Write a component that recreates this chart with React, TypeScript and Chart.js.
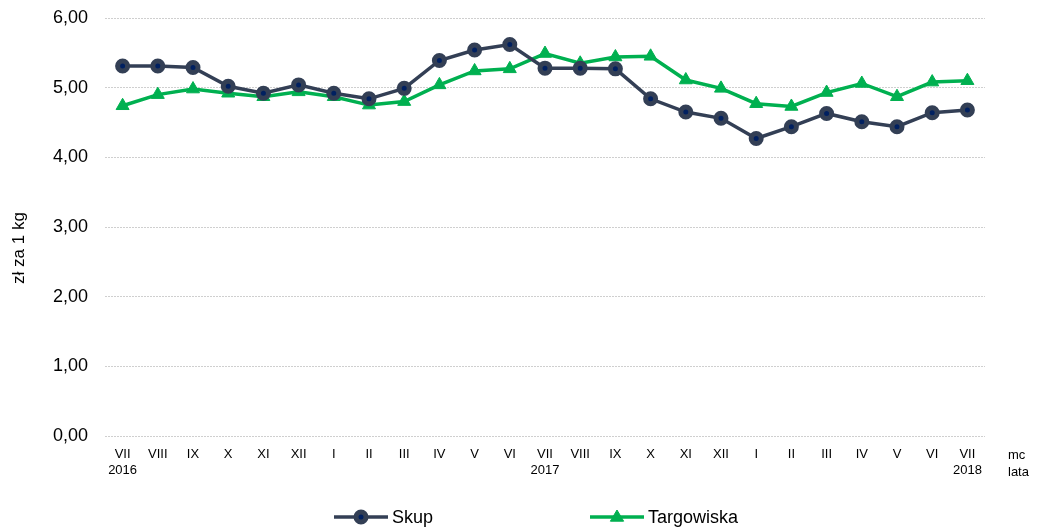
import React, { useEffect, useRef } from "react";
import { Chart, registerables } from "chart.js";

Chart.register(...registerables);

const months = ["VII", "VIII", "IX", "X", "XI", "XII", "I", "II", "III", "IV", "V", "VI", "VII", "VIII", "IX", "X", "XI", "XII", "I", "II", "III", "IV", "V", "VI", "VII"];
const years: Record<number, string> = { 0: "2016", 12: "2017", 24: "2018" };

const skup = [5.31, 5.31, 5.29, 5.02, 4.92, 5.04, 4.92, 4.84, 4.99, 5.39, 5.54, 5.62, 5.28, 5.28, 5.27, 4.84, 4.65, 4.56, 4.27, 4.44, 4.63, 4.51, 4.44, 4.64, 4.68];
const targowiska = [4.74, 4.90, 4.98, 4.92, 4.87, 4.94, 4.87, 4.75, 4.80, 5.04, 5.24, 5.27, 5.49, 5.35, 5.44, 5.45, 5.11, 4.99, 4.77, 4.73, 4.93, 5.06, 4.87, 5.08, 5.10];

const yTicks = [0, 1, 2, 3, 4, 5, 6];
const yTitle = "zł za 1 kg";
const unitLabels = ["mc", "lata"];

const DARK = "#333F55";
const NAVY = "#002060";
const GREEN = "#00B050";
const FONT = "'Liberation Sans', Arial, sans-serif";

const extrasPlugin = {
  id: "extras",
  afterDraw(chart: any) {
    const ctx = chart.ctx as CanvasRenderingContext2D;
    ctx.save();
    // y axis title
    ctx.save();
    ctx.translate(19, 248);
    ctx.rotate(-Math.PI / 2);
    ctx.fillStyle = "#000";
    ctx.font = `17px ${FONT}`;
    ctx.textAlign = "center";
    ctx.textBaseline = "middle";
    ctx.fillText(yTitle, 0, 0);
    ctx.restore();

    // axis unit labels on the right
    ctx.fillStyle = "#000";
    ctx.font = `13px ${FONT}`;
    ctx.textAlign = "left";
    ctx.textBaseline = "middle";
    ctx.fillText(unitLabels[0], 1008, 455);
    ctx.fillText(unitLabels[1], 1008, 472);

    // legend
    const ly = 517;
    const items = [
      { x: 334, label: chart.data.datasets[0].label, kind: "circle" },
      { x: 590, label: chart.data.datasets[1].label, kind: "triangle" },
    ];
    for (const it of items) {
      const color = it.kind === "circle" ? DARK : GREEN;
      ctx.strokeStyle = color;
      ctx.lineWidth = 3.5;
      ctx.beginPath();
      ctx.moveTo(it.x, ly);
      ctx.lineTo(it.x + 54, ly);
      ctx.stroke();
      const cx = it.x + 27;
      if (it.kind === "circle") {
        ctx.beginPath();
        ctx.arc(cx, ly, 5, 0, Math.PI * 2);
        ctx.fillStyle = NAVY;
        ctx.fill();
        ctx.lineWidth = 5;
        ctx.strokeStyle = DARK;
        ctx.stroke();
      } else {
        ctx.beginPath();
        const r = 7;
        ctx.moveTo(cx, ly - r);
        ctx.lineTo(cx + r * 0.95, ly + r * 0.6);
        ctx.lineTo(cx - r * 0.95, ly + r * 0.6);
        ctx.closePath();
        ctx.fillStyle = GREEN;
        ctx.fill();
        ctx.lineWidth = 1;
        ctx.strokeStyle = GREEN;
        ctx.stroke();
      }
      ctx.fillStyle = "#000";
      ctx.font = `18px ${FONT}`;
      ctx.textAlign = "left";
      ctx.textBaseline = "middle";
      ctx.fillText(it.label, it.x + 58, ly + 1);
    }
    ctx.restore();
  },
};

export default function App() {
  const ref = useRef<HTMLCanvasElement | null>(null);

  useEffect(() => {
    document.body.style.margin = "0";
    if (!ref.current) return;
    const chart = new Chart(ref.current, {
      type: "line",
      data: {
        labels: months.map((m, i) => (years[i] ? [m, years[i]] : m)),
        datasets: [
          {
            label: "Skup",
            data: skup,
            borderColor: DARK,
            backgroundColor: NAVY,
            borderWidth: 3.5,
            pointStyle: "circle",
            pointRadius: 5,
            pointBorderWidth: 5,
            pointBackgroundColor: NAVY,
            pointBorderColor: DARK,
            tension: 0,
          },
          {
            label: "Targowiska",
            data: targowiska,
            borderColor: GREEN,
            backgroundColor: GREEN,
            borderWidth: 3.5,
            pointStyle: "triangle",
            pointRadius: 7.5,
            pointBorderWidth: 1,
            pointBackgroundColor: GREEN,
            pointBorderColor: GREEN,
            tension: 0,
          },
        ],
      },
      options: {
        animation: false,
        responsive: true,
        maintainAspectRatio: false,
        layout: { padding: { left: 0, right: 53, top: 18, bottom: 31 } },
        plugins: {
          legend: { display: false },
          tooltip: { enabled: false },
        },
        scales: {
          x: {
            offset: true,
            grid: { display: false, drawTicks: false },
            border: { display: false },
            ticks: {
              color: "#000",
              font: { family: FONT, size: 13 },
              padding: 11,
              maxRotation: 0,
              autoSkip: false,
            },
            afterFit(scale: any) {
              scale.height = 60;
            },
          },
          y: {
            min: 0,
            max: 6,
            afterBuildTicks(scale: any) {
              scale.ticks = yTicks.map((v) => ({ value: v }));
            },
            grid: {
              color: "#CFCFCF",
              lineWidth: 1,
              drawTicks: false,
            },
            border: { display: false, dash: [2, 1] },
            ticks: {
              color: "#000",
              font: { family: FONT, size: 18 },
              padding: 17,
              callback: (v: any) => Number(v).toFixed(2).replace(".", ","),
            },
            afterFit(scale: any) {
              scale.width = 105;
              scale.paddingTop = 0;
              scale.paddingBottom = 0;
            },
          },
        },
      },
      plugins: [extrasPlugin],
    });
    return () => chart.destroy();
  }, []);

  return (
    <div style={{ position: "fixed", left: 0, top: 0, width: 1038, height: 527 }}>
      <canvas ref={ref} />
    </div>
  );
}
